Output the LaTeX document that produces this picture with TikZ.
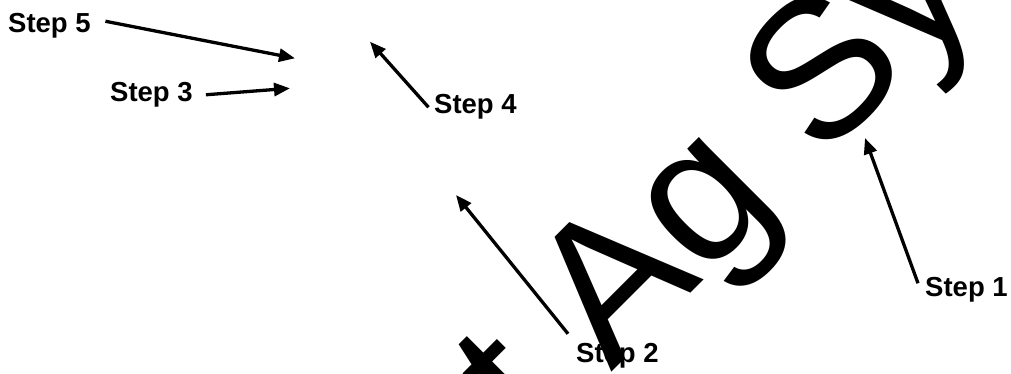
\documentclass[tikz,border=0pt]{standalone}
\usepackage{fontspec}
\setmainfont{Liberation Sans}
\usetikzlibrary{arrows.meta}
\tikzset{
  steplabel/.style={inner sep=0pt, anchor=base west, font=\fontsize{27.5}{30}\selectfont\bfseries},
  arr/.style={line width=3.3pt, -{Triangle[length=16pt,width=13pt]}},
  wmark/.style={inner sep=0pt, anchor=base west, rotate=45, font=\fontsize{197}{200}\selectfont}
}
\begin{document}
\begin{tikzpicture}[x=1pt,y=-1pt]
\useasboundingbox (0,0) rectangle (1011,373);
\clip (0,0) rectangle (1011,373);
% labels
\node[steplabel] (s5) at (8,32) {Step 5};
\node[steplabel] (s3) at (110,101.5) {Step 3};
\node[steplabel] (s4) at (434,113) {Step 4};
\node[steplabel] (s2) at (576,362.5) {Step 2};
\node[steplabel] (s1) at (925,296) {Step 1};
% arrow tips
\coordinate (t5) at (295,58.3);
\coordinate (t3) at (290,88.3);
\coordinate (t4) at (370,41.7);
\coordinate (t2) at (456,195);
\coordinate (t1) at (865,138);
% arrows
\draw[arr] ([xshift=14.5pt,yshift=4pt]s5.east) -- (t5);
\draw[arr] ([xshift=13pt,yshift=0pt]s3.east) -- (t3);
\draw[arr] ([xshift=-5.5pt,yshift=-1pt]s4.west) -- (t4);
\draw[arr] ([xshift=-8pt,yshift=22pt]s2.west) -- (t2);
\draw[arr] ([xshift=-7pt,yshift=6pt]s1.west) -- (t1);
% watermark
\node[wmark] (wm) at (534.5,449.5) {t Ag Sy};
\end{tikzpicture}
\end{document}
